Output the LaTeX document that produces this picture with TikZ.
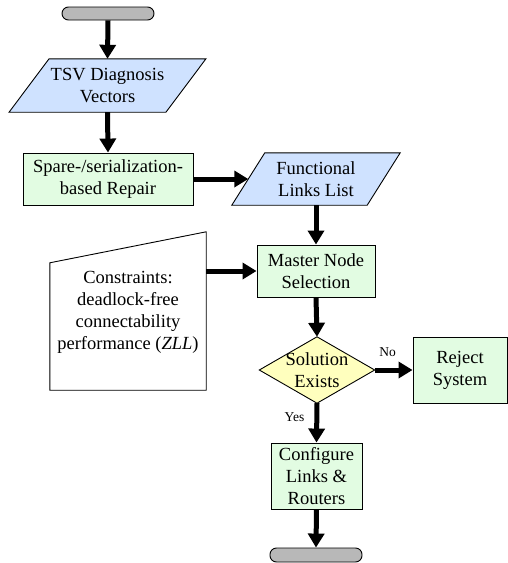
\documentclass[tikz,border=0pt]{standalone}
\usepackage{fontspec}
\setmainfont{Liberation Serif}
\usetikzlibrary{arrows.meta}
\definecolor{inblue}{HTML}{CFE2FF}
\definecolor{procgreen}{HTML}{E2FCE2}
\definecolor{decyellow}{HTML}{FFFFBE}
\definecolor{termgray}{HTML}{B8B8B8}
\tikzset{
  txt/.style={draw=none, inner sep=0pt, align=center, font=\rmfamily\fontsize{18.5}{22}\selectfont},
  procbox/.style={txt, draw=black, line width=0.9pt, fill=procgreen},
  term/.style={draw=black, line width=0.9pt, fill=termgray, rounded corners=6.5pt, inner sep=0pt},
  outline/.style={draw=black, line width=0.9pt},
  flow/.style={line width=5pt, -{Triangle[length=14pt,width=16pt]}},
  lbl/.style={inner sep=0pt, font=\rmfamily\fontsize{13.5}{16}\selectfont}
}
\begin{document}
\begin{tikzpicture}[x=1pt,y=-1pt]
\useasboundingbox (0,0) rectangle (508,563);
% terminators
\node[term, minimum width=92pt, minimum height=13pt] (start) at (108,13.5) {};
\node[term, minimum width=92pt, minimum height=14pt] (stop) at (316,555) {};
% TSV diagnosis vectors (input parallelogram)
\node[txt, minimum width=156.5pt, minimum height=53pt] (tsv) at (107.5,85.5) {};
\path[outline, fill=inblue] ([xshift=-20pt]tsv.south west) -- ([xshift=-20pt]tsv.south east) -- ([xshift=20pt]tsv.north east) -- ([xshift=20pt]tsv.north west) -- cycle;
\node[txt] (tsvtext) at (tsv) {TSV Diagnosis\\Vectors};
% spare repair
\node[procbox, minimum width=170pt, minimum height=52pt] (spare) at (108,179) {Spare-/serialization-\\based Repair};
% functional links list
\node[txt, minimum width=135pt, minimum height=52pt] (fll) at (316,179) {};
\path[outline, fill=inblue] ([xshift=-16.5pt]fll.south west) -- ([xshift=-16.5pt]fll.south east) -- ([xshift=16.5pt]fll.north east) -- ([xshift=16.5pt]fll.north west) -- cycle;
\node[txt] (flltext) at (fll) {Functional\\Links List};
% master node selection
\node[procbox, minimum width=118pt, minimum height=52pt] (master) at (316,271) {Master Node\\Selection};
% constraints (manual input)
\node[txt, minimum width=156pt, minimum height=158pt] (cons) at (128,311) {};
\path[outline, fill=white] (cons.south west) -- (cons.south east) -- (cons.north east) -- ([yshift=-31pt]cons.north west) -- cycle;
\node[txt] (constext) at ([yshift=-1.5pt]cons.center) {Constraints:\\deadlock-free\\connectability\\performance (\textit{ZLL})};
% decision
\node[txt, minimum width=115pt, minimum height=66pt] (dec) at (317,370) {};
\path[outline, fill=decyellow] (dec.north) -- (dec.east) -- (dec.south) -- (dec.west) -- cycle;
\node[txt] (dectext) at (dec) {Solution\\Exists};
% reject
\node[procbox, minimum width=94pt, minimum height=66pt] (reject) at (460,370) {Reject\\System};
% configure
\node[procbox, minimum width=91pt, minimum height=66pt] (conf) at (316.5,476) {Configure\\Links \&\\Routers};
% connectors
\draw[flow] (start.south) -- (tsv.north);
\draw[flow] (tsv.south) -- (spare.north);
\draw[flow] (spare.east) -- (fll.west);
\draw[flow] (fll.south) -- (master.north);
\draw[flow] (cons.east |- master.west) -- (master.west);
\draw[flow] (master.south) -- (dec.north);
\draw[flow] (dec.east) -- node[lbl, pos=0.34, above=11pt] {No} (reject.west);
\draw[flow] (dec.south) -- node[lbl, pos=0.35, left=10pt] {Yes} (conf.north);
\draw[flow] (conf.south) -- (stop.north);
\end{tikzpicture}
\end{document}
